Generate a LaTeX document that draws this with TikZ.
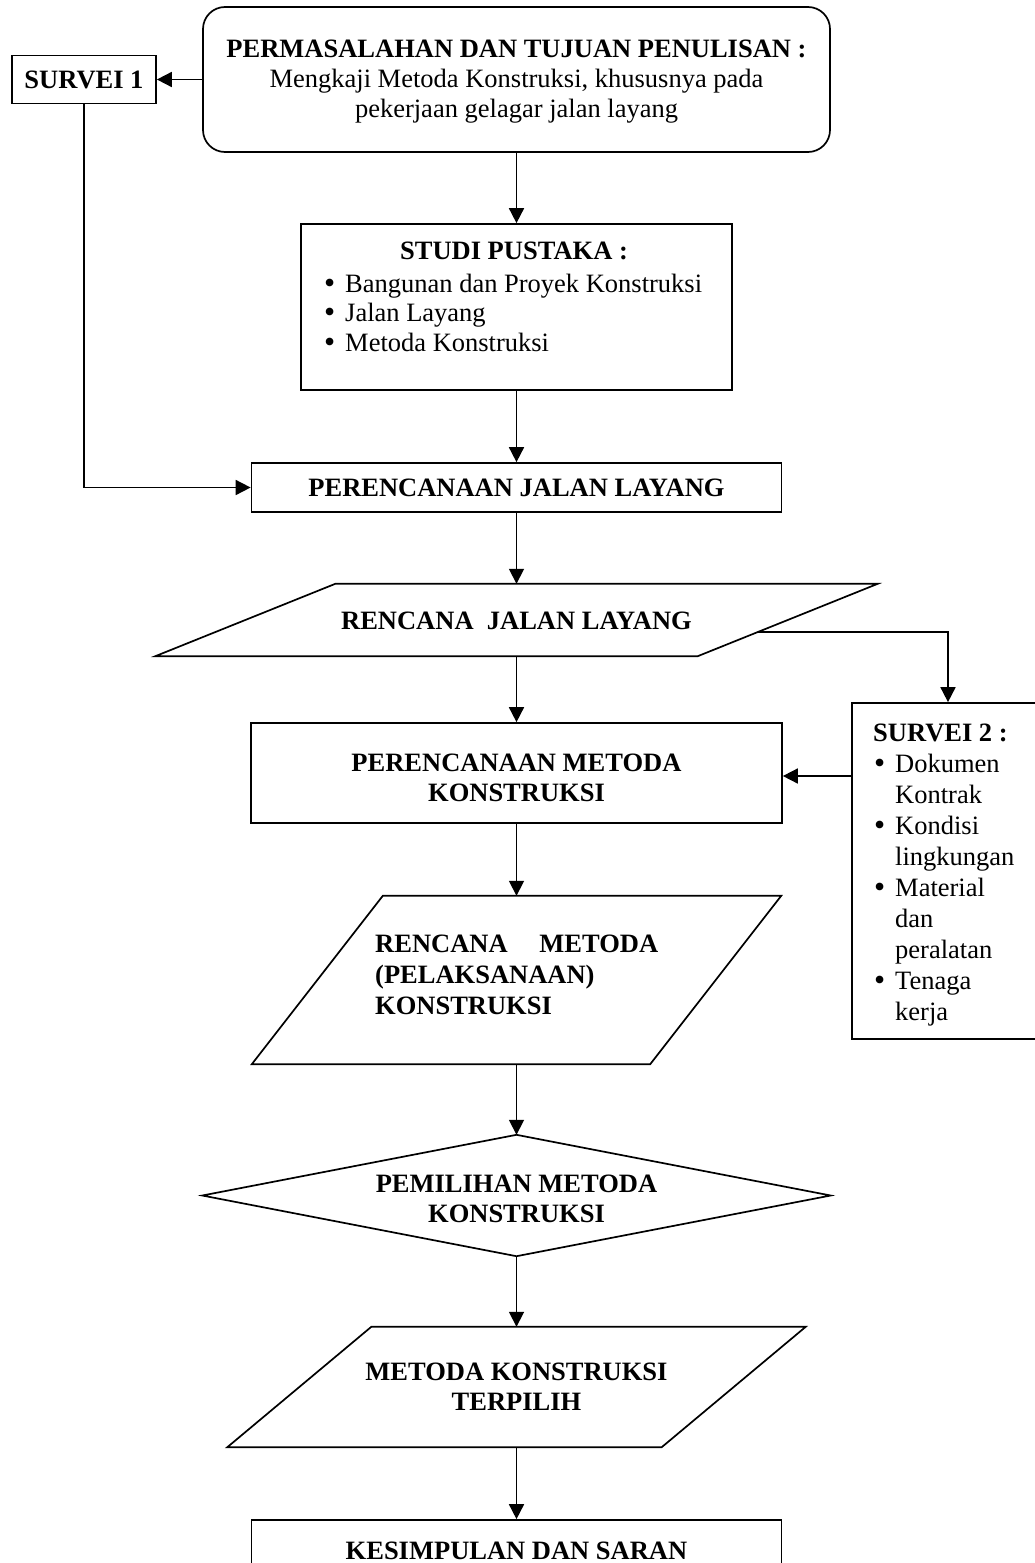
\documentclass[tikz,border=0pt]{standalone}
\usepackage{fontspec}
\setmainfont{Liberation Serif}
\usetikzlibrary{arrows.meta,calc}
\newcommand\fstrut{\rule{0pt}{19pt}}
\newcommand\blt{\makebox[22pt][l]{\hspace{1pt}\raisebox{-1.2pt}[0pt][0pt]{\scalebox{1.2}{•}}}}
\newcommand\ind{\hspace*{22pt}}
\begin{document}
\begin{tikzpicture}[x=1pt,y=-1pt,
  every node/.style={inner sep=0pt, font=\fontsize{26.5}{30}\selectfont},
  txtb/.style={font=\fontsize{26.5}{30}\selectfont\bfseries},
  frame/.style={draw, line width=1.7pt, rectangle},
  ghost/.style={rectangle, draw=none},
  outline/.style={draw, line width=1.7pt, line join=miter},
  single/.style={text height=18pt, text depth=0pt, align=center},
  arr/.style={line width=1.7pt, -{Triangle[width=15pt,length=15pt]}},
  conn/.style={line width=1.7pt}
]
\path[use as bounding box] (0,0) rectangle (1035,1563);
\fill[white] (0,0) rectangle (1035,1563);
\clip (0,0) rectangle (1035,1563);

% ---- boxes ----
\node[frame, rounded corners=22pt, minimum width=627pt, minimum height=145pt] (top) at (516.5,79.5) {};
\node[frame, txtb, single, minimum width=144pt, minimum height=48pt] (s1) at (84,79.5) {SURVEI 1};
\node[frame, minimum width=431pt, minimum height=166pt] (studi) at (516.5,307) {};
\node[frame, txtb, single, minimum width=530pt, minimum height=49pt] (pjl) at (516.5,487.5) {PERENCANAAN JALAN LAYANG};
\node[ghost, txtb, single, minimum width=722pt, minimum height=72pt] (rjl) at (516.5,620) {RENCANA\ \ JALAN LAYANG};
\node[frame, minimum width=531pt, minimum height=100pt] (pmk) at (516.5,773) {};
\node[frame, minimum width=190pt, minimum height=336pt] (s2) at (947,871) {};
\node[ghost, minimum width=529pt, minimum height=168pt] (rmp) at (516.5,980) {};
\node[ghost, minimum width=628pt, minimum height=121pt] (dia) at (516.5,1195.5) {};
\node[ghost, minimum width=578pt, minimum height=120pt] (mkt) at (516.5,1387) {};
\node[frame, txtb, single, minimum width=530pt, minimum height=60pt] (kes) at (516.5,1550) {KESIMPULAN DAN SARAN};

% ---- drawn shapes ----
\coordinate (rjlbr) at ($(rjl.south east)-(180,0)$);
\draw[outline] ($(rjl.north west)+(180,0)$) -- (rjl.north east) -- (rjlbr) -- (rjl.south west) -- cycle;
\coordinate (rmpbr) at ($(rmp.south east)-(131,0)$);
\draw[outline] ($(rmp.north west)+(131,0)$) -- (rmp.north east) -- (rmpbr) -- (rmp.south west) -- cycle;
\draw[outline] (dia.north) -- (dia.east) -- (dia.south) -- (dia.west) -- cycle;
\coordinate (mktbr) at ($(mkt.south east)-(144,0)$);
\draw[outline] ($(mkt.north west)+(144,0)$) -- (mkt.north east) -- (mktbr) -- (mkt.south west) -- cycle;

% ---- texts ----
\node[anchor=north, align=center] (topt) at (516.5,38)
  {\textbf{\fstrut PERMASALAHAN DAN TUJUAN PENULISAN :}\\Mengkaji Metoda Konstruksi, khususnya pada\\pekerjaan gelagar jalan layang};
\node[txtb, anchor=base] (studit) at (514,259) {STUDI PUSTAKA :};
\node[anchor=north west, align=left, font=\fontsize{26.5}{29.5}\selectfont] (studib) at (323,273)
  {\fstrut\blt Bangunan dan Proyek Konstruksi\\\blt Jalan Layang\\\blt Metoda Konstruksi};
\node[txtb, anchor=north, align=center] (pmkt) at (516.5,752) {\fstrut PERENCANAAN METODA\\KONSTRUKSI};
\node[anchor=north west, align=left, font=\fontsize{26.5}{31}\selectfont] (s2t) at (873,722)
  {\textbf{\fstrut SURVEI 2 :}\\\blt Dokumen\\\ind Kontrak\\\blt Kondisi\\\ind lingkungan\\\blt Material\\\ind dan\\\ind peralatan\\\blt Tenaga\\\ind kerja};
\node[txtb, anchor=north west, align=left, font=\fontsize{26.5}{31}\selectfont\bfseries] (rmpt) at (375,933)
  {\fstrut\makebox[283pt][l]{RENCANA\hfill METODA}\\(PELAKSANAAN)\\KONSTRUKSI};
\node[txtb, anchor=north, align=center] (diat) at (516.5,1173) {\fstrut PEMILIHAN METODA\\KONSTRUKSI};
\node[txtb, anchor=north, align=center] (mktt) at (516.5,1361) {\fstrut METODA KONSTRUKSI\\TERPILIH};

% ---- connectors ----
\coordinate (rjlr) at ($(rjl.north east)!0.667!(rjlbr)$);
\coordinate (s2top) at (948,0 |- s2.north);
\draw[arr] (top.west) -- (s1.east);
\draw[arr] (top.south) -- (studi.north);
\draw[arr] (studi.south) -- (pjl.north);
\draw[arr] (s1.south) |- (pjl.west);
\draw[arr] (pjl.south) -- (rjl.north);
\draw[arr] (rjlr) -| (s2top);
\draw[arr] (rjl.south) -- (pmk.north);
\draw[arr] (s2.west |- 0,776) -- (pmk.east |- 0,776);
\draw[arr] (pmk.south) -- (rmp.north);
\draw[arr] (rmp.south) -- (dia.north);
\draw[arr] (dia.south) -- (mkt.north);
\draw[arr] (mkt.south) -- (kes.north);
\end{tikzpicture}
\end{document}
